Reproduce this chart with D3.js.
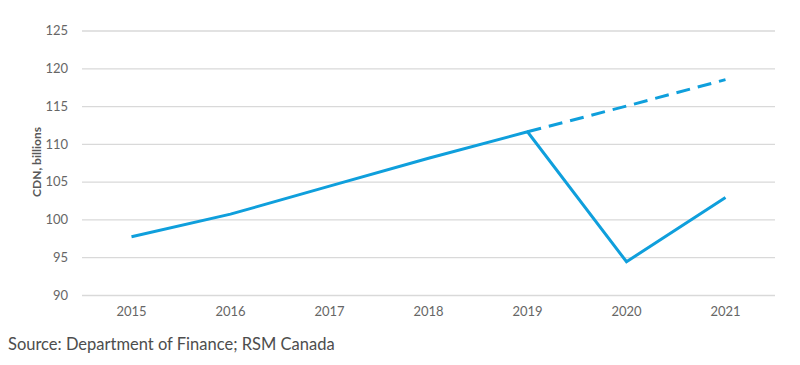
<!DOCTYPE html>
<html><head><meta charset="utf-8">
<script src="https://cdn.jsdelivr.net/npm/d3@7"></script>
<style>body{margin:0;background:#fff;} svg{display:block;}</style>
</head><body>
<svg id="c" width="800" height="365"></svg>
<script>
const years = ["2015","2016","2017","2018","2019","2020","2021"];
const actual = [97.7, 100.7, 104.4, 108.1, 111.6, 94.4, 102.9];
const projYears = ["2019","2020","2021"];
const projected = [111.6, 115.0, 118.5];
const yTicks = [90, 95, 100, 105, 110, 115, 120, 125];

const svg = d3.select("#c");
const font = "Lato, 'Open Sans', sans-serif";
const x = d3.scaleBand().domain(years).range([82, 775]);
const y = d3.scaleLinear().domain([90, 125]).range([295, 30.5]);
const cx = d => x(d) + x.bandwidth()/2;

const ya = svg.append("g").attr("transform","translate(82,0)")
  .call(d3.axisLeft(y).tickValues(yTicks).tickSize(-693).tickPadding(14));
ya.select(".domain").remove();
ya.selectAll(".tick line").attr("stroke","#d9d9d9").attr("stroke-width",1.3);
ya.selectAll(".tick text").attr("fill","#666").attr("font-size",13).attr("font-family",font);

const xa = svg.append("g").attr("transform","translate(0,295)")
  .call(d3.axisBottom(x).tickSize(0).tickPadding(12));
xa.select(".domain").remove();
xa.selectAll(".tick text").attr("fill","#666").attr("font-size",13).attr("font-family",font);

const line = d3.line().x(d => cx(d[0])).y(d => y(d[1]));
svg.append("path").datum(projYears.map((d,i)=>[d,projected[i]]))
  .attr("d", line).attr("fill","none").attr("stroke","#0f9fdc")
  .attr("stroke-width",3).attr("stroke-dasharray","14,8");
svg.append("path").datum(years.map((d,i)=>[d,actual[i]]))
  .attr("d", line).attr("fill","none").attr("stroke","#0f9fdc")
  .attr("stroke-width",3).attr("stroke-linejoin","miter");

svg.append("text").attr("transform","translate(41,162) rotate(-90)")
  .attr("text-anchor","middle").attr("font-family",font).attr("font-weight","bold")
  .attr("font-size",12).attr("fill","#595959").text("CDN, billions");

svg.append("text").attr("x",8).attr("y",350).attr("font-family",font)
  .attr("font-size",16.5).attr("fill","#4d4d4d").text("Source: Department of Finance; RSM Canada");
</script>
</body></html>
